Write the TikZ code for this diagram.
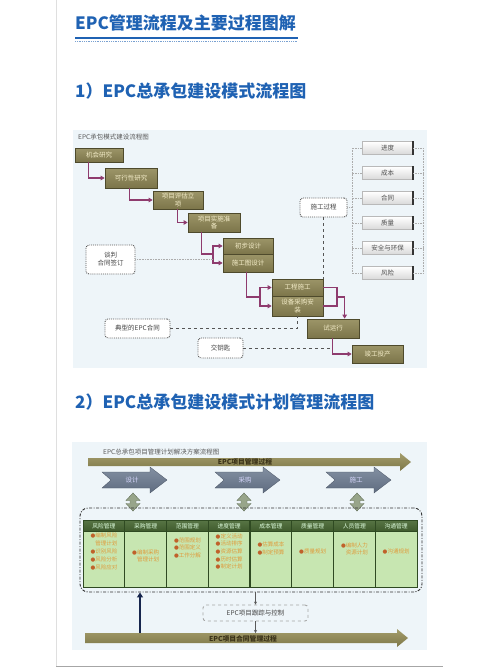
\documentclass[tikz,border=0pt]{standalone}
\usepackage{fontspec}
\setmainfont{Noto Sans CJK SC}
\newfontfamily\dejavu{DejaVu Sans}
\usetikzlibrary{arrows.meta,calc}
\definecolor{tblue}{HTML}{1F62B3}
\definecolor{bgc}{HTML}{EEF5F9}
\definecolor{eboxt}{HTML}{9C9568}
\definecolor{eboxb}{HTML}{7C754A}
\definecolor{eboxd}{HTML}{4E4A2C}
\definecolor{eboxtx}{HTML}{F3ECC8}
\definecolor{connc}{HTML}{8E3B6E}
\definecolor{dgray}{HTML}{555555}
\definecolor{dtext}{HTML}{444444}
\definecolor{rtext}{HTML}{505050}
\definecolor{olvt}{HTML}{A39D6C}
\definecolor{olvb}{HTML}{7E7748}
\definecolor{olvtx}{HTML}{3A3218}
\definecolor{slt}{HTML}{8390A2}
\definecolor{slb}{HTML}{5F6C80}
\definecolor{icn}{HTML}{98A58A}
\definecolor{icnd}{HTML}{5E6B52}
\definecolor{ghead}{HTML}{3F5B2D}
\definecolor{gheadt}{HTML}{587545}
\definecolor{gbody}{HTML}{C7E6B1}
\definecolor{gsep}{HTML}{2F4A22}
\definecolor{itx}{HTML}{E09A3A}
\definecolor{bul}{HTML}{C0612A}
\definecolor{navy}{HTML}{17264E}
\newcommand{\bu}{{\dejavu\color{bul}●}}
\tikzset{
 ebox/.style={draw=eboxd, line width=0.7, top color=eboxt, bottom color=eboxb, text=eboxtx, font=\fontsize{6.5}{7.3}\selectfont, inner sep=0, align=center},
 conn/.style={draw=connc, line width=1.1, -{Triangle[length=4pt,width=4.5pt]}},
 connl/.style={draw=connc, line width=1.1},
 dbox/.style={draw=dgray, densely dotted, line width=0.9, rounded corners=3, fill=white, text=dtext, font=\fontsize{6.5}{8}\selectfont, align=center, inner sep=0},
 rbox/.style={draw=gray!55, top color=white, bottom color=gray!30, text=rtext, font=\fontsize{6.5}{7.5}\selectfont, inner sep=0, minimum width=51, minimum height=13},
 rail/.style={draw=gray!65, densely dotted, line width=0.6},
 dline/.style={draw=dgray, dashed, line width=0.9},
 colhead/.style={text=white!88!green, font=\fontsize{5.8}{7}\selectfont, inner sep=0},
 colitem/.style={text=itx, font=\fontsize{5.5}{7.8}\selectfont, inner sep=0, align=left},
 chev/.style={top color=slt, bottom color=slb, draw=slb!80!black, line width=0.3},
 chevtx/.style={text=white!85!blue, font=\fontsize{6.5}{7.5}\selectfont, inner sep=0},
 bigarr/.style={top color=olvt, bottom color=olvb, draw=none},
 bigtx/.style={text=olvtx, font=\bfseries\fontsize{6.8}{8}\selectfont, inner sep=0},
 ttl/.style={text=tblue, font=\bfseries\fontsize{17}{20}\selectfont, anchor=west, inner sep=0},
 sub/.style={text=gray!70!black, font=\fontsize{6.5}{7.5}\selectfont, anchor=west, inner sep=0},
}
\begin{document}
\begin{tikzpicture}[x=1pt,y=-1pt]
\useasboundingbox (0,0) rectangle (500,667);
\fill[white] (0,0) rectangle (500,667);
% page lines
\draw[gray!25, line width=0.8] (56,0) -- (56,667);
\draw[gray!70, line width=1] (56,666) -- (443,666);
% headings
\node[ttl] (title) at (75,23) {EPC管理流程及主要过程图解};
\draw[tblue, line width=1.6] (75,38) -- (298,38);
\draw[tblue!60, line width=0.8, densely dotted] (75,41.5) -- (298,41.5);
\node[ttl] (h1) at (75,91) {1）EPC总承包建设模式流程图};
\node[ttl] (h2) at (75,402) {2）EPC总承包建设模式计划管理流程图};

% ===== diagram 1 =====
\fill[bgc] (73,130) rectangle (427,368);
\node[sub] (st1) at (78,137) {EPC承包模式建设流程图};

\node[ebox, minimum width=48, minimum height=14] (b1) at (99,155) {机会研究};
\node[ebox, minimum width=52, minimum height=20] (b2) at (131,178) {可行性研究};
\node[ebox, minimum width=50, minimum height=18] (b3) at (178,200) {项目评估立\\项};
\node[ebox, minimum width=52, minimum height=19] (b4) at (214,222.5) {项目实施准\\备};
\node[ebox, minimum width=50, minimum height=16] (b5) at (248,246) {初步设计};
\node[ebox, minimum width=50, minimum height=18] (b6) at (248,263) {施工图设计};
\node[ebox, minimum width=51, minimum height=17] (b7) at (297.5,287.5) {工程施工};
\node[ebox, minimum width=51, minimum height=20] (b8) at (297.5,306) {设备采购安\\装};
\node[ebox, minimum width=52, minimum height=19] (b9) at (333,328.5) {试运行};
\node[ebox, minimum width=51, minimum height=18] (b10) at (377.5,354) {竣工投产};

% connectors
\draw[conn] ($(b1.south west)+(14,0)$) |- (b2.west);
\draw[conn] ($(b2.south west)+(25,0)$) |- (b3.west);
\draw[conn] ($(b3.south west)+(25,0)$) |- (b4.west);
\coordinate (br1) at (213,254);
\draw[connl] ($(b4.south west)+(14,0)$) |- (br1);
\draw[conn] (br1) |- (b5.west);
\draw[conn] (br1) |- (b6.west);
\coordinate (br2) at (260,297);
\draw[connl] ($(b6.south west)+(24,0)$) |- (br2);
\draw[conn] (br2) |- (b7.west);
\draw[conn] (br2) |- (b8.west);
\coordinate (br3) at (337,297);
\draw[connl] (b7.east) -| (br3);
\draw[connl] (b8.east) -| (br3);
\draw[conn] (br3) -| ($(b9.north west)+(38,0)$);
\draw[conn] ($(b9.south west)+(26,0)$) |- (b10.west);
\coordinate (c7v) at (333,348);

% right column
\foreach \n/\t/\yy in {r1/进度/148, r2/成本/173, r3/合同/198, r4/质量/223, r5/安全与环保/248, r6/风险/273}{
  \node[rbox] (\n) at (387.5,\yy) {\t};
  \draw[gray!40!black, line width=1.6] (\n.north east) -- (\n.south east);
  \draw[rail] (\n.west) -- ++(-10,0);
  \draw[rail] (\n.east) -- ++(10,0);
}
\draw[rail] ($(r1.west)+(-10,0)$) -- ($(r6.west)+(-10,0)$);
\draw[rail] ($(r1.east)+(10,0)$) -- ($(r6.east)+(10,0)$);

% dotted boxes
\node[dbox, minimum width=47, minimum height=19] (sg) at (323.5,207.5) {施工过程};
\draw[rail] (sg.east) -- ++(5,0);
\draw[dline] (sg.south) -- (sg.south |- b7.north);
\node[dbox, minimum width=49, minimum height=29] (tp) at (110.5,259.5) {谈判\\合同签订};
\draw[rail] (tp.east) -- (tp.east -| br1);
\node[dbox, minimum width=65, minimum height=19] (dx) at (137.5,328.5) {典型的EPC合同};
\draw[dline] (dx.east) -| (b8.south);
\node[dbox, minimum width=45, minimum height=20] (jys) at (220.5,348) {交钥匙};
\draw[dline] (jys.east) -- (c7v);

% ===== diagram 2 =====
\fill[bgc] (72,442) rectangle (427,650);
\node[sub] (st2) at (103,452) {EPC总承包项目管理计划解决方案流程图};

% top big arrow
\shade[bigarr] (88,458) -- (400,458) -- (400,453) -- (411,462) -- (400,471) -- (400,466) -- (88,466) -- cycle;
\node[bigtx] (ta) at (245,462) {EPC项目管理过程};

% chevrons
\foreach \n/\t/\xa in {cd/设计/102, cp/采购/215, cs/施工/326}{
  \shade[chev] (\xa,472) -- ({\xa+48},472) -- ({\xa+48},467) -- ({\xa+65},480) -- ({\xa+48},493) -- ({\xa+48},488) -- (\xa,488) -- ({\xa+9},480) -- cycle;
  \node[chevtx] (\n) at ({\xa+30},480) {\t};
}
% double arrow icons
\foreach \n/\xc in {i1/133, i2/244, i3/357}{
  \coordinate (\n) at (\xc,502);
  \fill[icn, draw=icnd, line width=0.4] ($(\n)+(-7,-1.5)$) -- ($(\n)+(0,-9)$) -- ($(\n)+(7,-1.5)$) -- ($(\n)+(3,-1.5)$) -- ($(\n)+(3,1.5)$) -- ($(\n)+(7,1.5)$) -- ($(\n)+(0,9)$) -- ($(\n)+(-7,1.5)$) -- ($(\n)+(-3,1.5)$) -- ($(\n)+(-3,-1.5)$) -- cycle;
}

% container
\node[draw=black!80, line width=0.9, dash pattern=on 3pt off 1.5pt on 1pt off 1.5pt, rounded corners=8, minimum width=342, minimum height=84, inner sep=0] (cont) at (251,550) {};
% columns
\fill[gbody] (83,531) rectangle (417,587);
\shade[top color=gheadt, bottom color=ghead] (83,520) rectangle (417,531);
\foreach \i in {1,...,7}{
  \draw[gsep, line width=1.4] ({83+41.75*\i},520) -- ({83+41.75*\i},587);
}
\draw[gsep, line width=1] (83,520) rectangle (417,587);
\draw[gsep, line width=0.6] (83,531) -- (417,531);
\foreach \i/\h in {0/风险管理,1/采购管理,2/范围管理,3/进度管理,4/成本管理,5/质量管理,6/人员管理,7/沟通管理}{
  \node[colhead] (hd\i) at ({103.9+41.75*\i},526) {\h};
}
\node[colitem, anchor=north] (k0) at (103.9,533) {\bu 编制风险\\\phantom{\bu}管理计划\\\bu 识别风险\\\bu 风险分析\\\bu 风险应对};
\node[colitem] (k1) at (145.6,556) {\bu 编制采购\\\phantom{\bu}管理计划};
\node[colitem] (k2) at (187.4,548) {\bu 范围规划\\\bu 范围定义\\\bu 工作分解};
\node[colitem, anchor=north, font=\fontsize{5.5}{7.6}\selectfont] (k3) at (229.1,533.5) {\bu 定义活动\\\bu 活动排序\\\bu 资源估算\\\bu 历时估算\\\bu 制定计划};
\node[colitem] (k4) at (270.9,548.5) {\bu 估算成本\\\bu 制定预算};
\node[colitem] (k5) at (312.6,552) {\bu 质量规划};
\node[colitem] (k6) at (354.4,549) {\bu 编制人力\\\phantom{\bu}资源计划};
\node[colitem] (k7) at (396.1,552) {\bu 沟通规划};

% tracking box
\node[draw=gray!70, dashed, line width=0.9, rounded corners=3, minimum width=105, minimum height=16, inner sep=0, text=dtext, font=\fontsize{6.5}{8}\selectfont] (trk) at (255.5,613) {EPC项目跟踪与控制};
\draw[gray!70!black, line width=0.6, -{Stealth[length=3pt,width=3pt]}] (trk.north |- cont.south) -- (trk.north);

% bottom big arrow
\shade[bigarr] (85,633) -- (397,633) -- (397,629) -- (408,638) -- (397,647) -- (397,643) -- (85,643) -- cycle;
\node[bigtx] (ba) at (243,639) {EPC项目合同管理过程};
\coordinate (bat) at (255.5,633);
\draw[gray!70!black, line width=0.6, -{Stealth[length=3pt,width=3pt]}] (trk.south) -- (bat);

% navy arrow
\coordinate (navs) at (140,633);
\draw[navy, line width=2.6, -{Triangle[length=5pt,width=6pt]}] (navs) -- (navs |- cont.south);
\end{tikzpicture}
\end{document}
